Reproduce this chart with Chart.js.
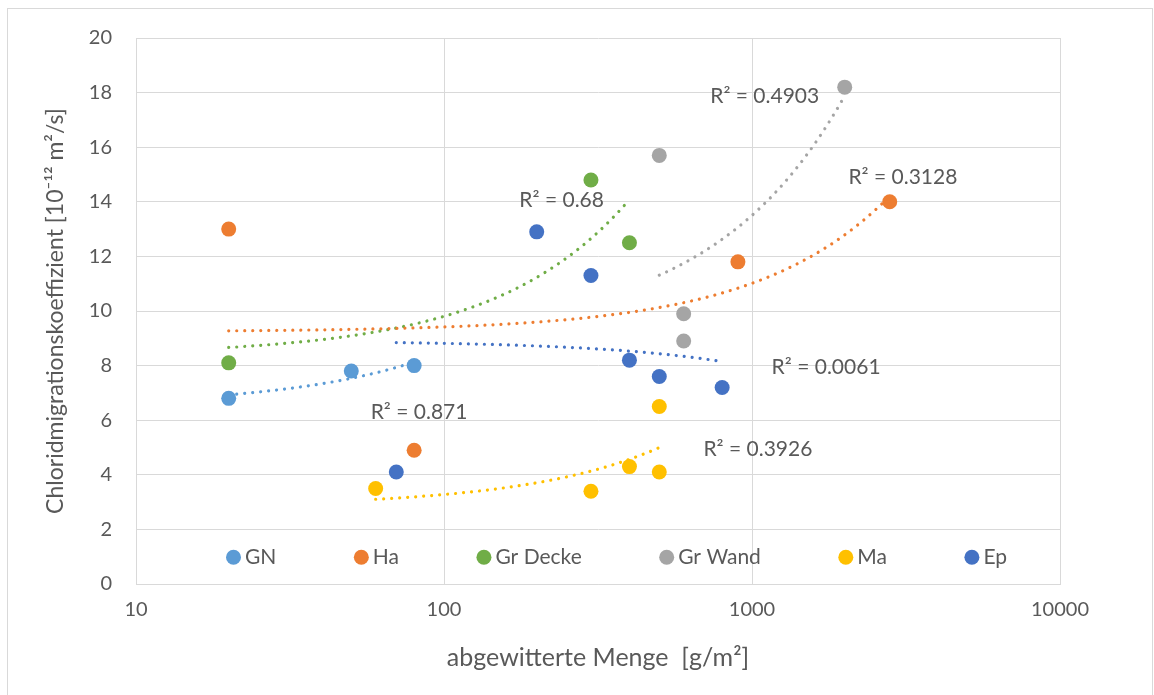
<!DOCTYPE html>
<html>
<head>
<meta charset="utf-8">
<title>Chloridmigrationskoeffizient</title>
<script src="https://cdn.jsdelivr.net/npm/chart.js@4.4.1/dist/chart.umd.min.js"></script>
<style>
  html, body { margin: 0; padding: 0; background: #fff; }
  canvas { display: block; }
</style>
</head>
<body>
<canvas id="chart" width="1154" height="695"></canvas>
<script>
// Messwerte je Serie: abgewitterte Menge [g/m²] und Chloridmigrationskoeffizient
const seriesNames = ['GN', 'Ha', 'Gr Decke', 'Gr Wand', 'Ma', 'Ep'];
const seriesColors = ['#5B9BD5', '#ED7D31', '#70AD47', '#A5A5A5', '#FFC000', '#4472C4'];

const gnX = [20, 50, 80];
const gnY = [6.8, 7.8, 8.0];
const haX = [20, 80, 900, 2800];
const haY = [13.0, 4.9, 11.8, 14.0];
const grDeckeX = [20, 300, 400];
const grDeckeY = [8.1, 14.8, 12.5];
const grWandX = [500, 600, 600, 2000];
const grWandY = [15.7, 9.9, 8.9, 18.2];
const maX = [60, 300, 400, 500, 500];
const maY = [3.5, 3.4, 4.3, 4.1, 6.5];
const epX = [70, 200, 300, 400, 500, 800];
const epY = [4.1, 12.9, 11.3, 8.2, 7.6, 7.2];

const xTicks = [10, 100, 1000, 10000];
const yTicks = [0, 2, 4, 6, 8, 10, 12, 14, 16, 18, 20];

// Bestimmtheitsmaße der linearen Trendlinien
const r2Labels = ['R² = 0.871', 'R² = 0.3128', 'R² = 0.68', 'R² = 0.4903', 'R² = 0.3926', 'R² = 0.0061'];
// Lage der Beschriftungen in Achsenwerten (x, y)
const r2Anchors = [[83, 6.3], [3090, 14.9], [241, 14.05], [1100, 17.85], [1045, 4.95], [1740, 7.95]];

const xs = [gnX, haX, grDeckeX, grWandX, maX, epX];
const ys = [gnY, haY, grDeckeY, grWandY, maY, epY];

const textColor = '#595959';
const gridColor = '#D9D9D9';
const fontFamily = 'Lato, "Open Sans", sans-serif';

// lineare Regression y = a + b*x, auf der log-Achse als Kurve sichtbar
function linearFit(x, y) {
  const n = x.length;
  const mx = x.reduce((s, v) => s + v, 0) / n;
  const my = y.reduce((s, v) => s + v, 0) / n;
  let sxy = 0, sxx = 0;
  for (let i = 0; i < n; i++) {
    sxy += (x[i] - mx) * (y[i] - my);
    sxx += (x[i] - mx) * (x[i] - mx);
  }
  const b = sxy / sxx;
  return { a: my - b * mx, b };
}

function trendPoints(x, y) {
  const { a, b } = linearFit(x, y);
  const lo = Math.min(...x), hi = Math.max(...x);
  const steps = 80;
  const pts = [];
  for (let i = 0; i <= steps; i++) {
    const xv = lo * Math.pow(hi / lo, i / steps);
    pts.push({ x: xv, y: a + b * xv });
  }
  return pts;
}

const datasets = [];
seriesNames.forEach((name, i) => {
  datasets.push({
    type: 'scatter',
    label: name,
    data: xs[i].map((x, j) => ({ x, y: ys[i][j] })),
    backgroundColor: seriesColors[i],
    borderColor: seriesColors[i],
    borderWidth: 0,
    pointRadius: 7.5,
    pointHoverRadius: 7.5,
    order: 0
  });
});
seriesNames.forEach((name, i) => {
  datasets.push({
    type: 'line',
    label: 'trend ' + name,
    data: trendPoints(xs[i], ys[i]),
    borderColor: seriesColors[i],
    borderWidth: 3.2,
    borderCapStyle: 'round',
    borderDash: [0.01, 8],
    pointRadius: 0,
    fill: false,
    tension: 0,
    order: 1
  });
});

// Rahmen um das gesamte Diagramm
const frame = {
  id: 'frame',
  beforeDraw(chart) {
    const ctx = chart.ctx;
    ctx.save();
    ctx.strokeStyle = gridColor;
    ctx.lineWidth = 1;
    ctx.strokeRect(7.5, 8.5, 1145, 700);
    ctx.restore();
  }
};

// R²-Beschriftungen
const r2Text = {
  id: 'r2Text',
  afterDatasetsDraw(chart) {
    const ctx = chart.ctx;
    const sx = chart.scales.x, sy = chart.scales.y;
    ctx.save();
    ctx.font = '21px ' + fontFamily;
    ctx.fillStyle = textColor;
    ctx.textAlign = 'center';
    ctx.textBaseline = 'middle';
    r2Labels.forEach((t, i) => {
      ctx.fillText(t, sx.getPixelForValue(r2Anchors[i][0]), sy.getPixelForValue(r2Anchors[i][1]));
    });
    ctx.restore();
  }
};

// Legende innerhalb der Zeichenfläche, gleichmäßig verteilt
const innerLegend = {
  id: 'innerLegend',
  afterDatasetsDraw(chart) {
    const ctx = chart.ctx;
    const r = 7.5, gap = 4;
    const left = 226, right = 1007;
    const cy = chart.scales.y.getPixelForValue(1) + 0.5;
    ctx.save();
    ctx.font = '21px ' + fontFamily;
    const widths = seriesNames.map(n => 2 * r + gap + ctx.measureText(n).width);
    const total = widths.reduce((s, v) => s + v, 0);
    const space = (right - left - total) / (seriesNames.length - 1);
    let x = left;
    seriesNames.forEach((n, i) => {
      ctx.fillStyle = seriesColors[i];
      ctx.beginPath();
      ctx.arc(x + r, cy, r, 0, Math.PI * 2);
      ctx.fill();
      ctx.fillStyle = textColor;
      ctx.textAlign = 'left';
      ctx.textBaseline = 'middle';
      ctx.fillText(n, x + 2 * r + gap, cy);
      x += widths[i] + space;
    });
    ctx.restore();
  }
};

Chart.defaults.font.family = fontFamily;
Chart.defaults.color = textColor;

new Chart(document.getElementById('chart'), {
  type: 'scatter',
  data: { datasets },
  options: {
    responsive: false,
    animation: false,
    events: [],
    layout: { padding: { top: 38, right: 94, bottom: 0, left: 0 } },
    plugins: {
      legend: { display: false },
      tooltip: { enabled: false }
    },
    scales: {
      x: {
        type: 'logarithmic',
        min: 10,
        max: 10000,
        afterBuildTicks: s => { s.ticks = xTicks.map(v => ({ value: v })); },
        afterFit: s => { s.height = 111; },
        ticks: {
          callback: v => String(v),
          font: { size: 20 },
          color: textColor,
          padding: 14,
          maxRotation: 0,
          autoSkip: false
        },
        grid: { color: gridColor, drawTicks: false },
        border: { color: gridColor },
        title: {
          display: true,
          text: 'abgewitterte Menge  [g/m²]',
          font: { size: 25 },
          color: textColor,
          padding: { top: 0, bottom: 22 }
        }
      },
      y: {
        min: 0,
        max: 20,
        afterBuildTicks: s => { s.ticks = yTicks.map(v => ({ value: v })); },
        afterFit: s => { s.width = 136; },
        ticks: {
          font: { size: 20 },
          color: textColor,
          padding: 24
        },
        grid: { color: gridColor, drawTicks: false },
        border: { color: gridColor },
        title: {
          display: true,
          text: 'Chloridmigrationskoeffizient [10⁻¹² m²/s]',
          font: { size: 23 },
          color: textColor,
          padding: { top: 42, bottom: 0 }
        }
      }
    }
  },
  plugins: [frame, r2Text, innerLegend]
});
</script>
</body>
</html>
